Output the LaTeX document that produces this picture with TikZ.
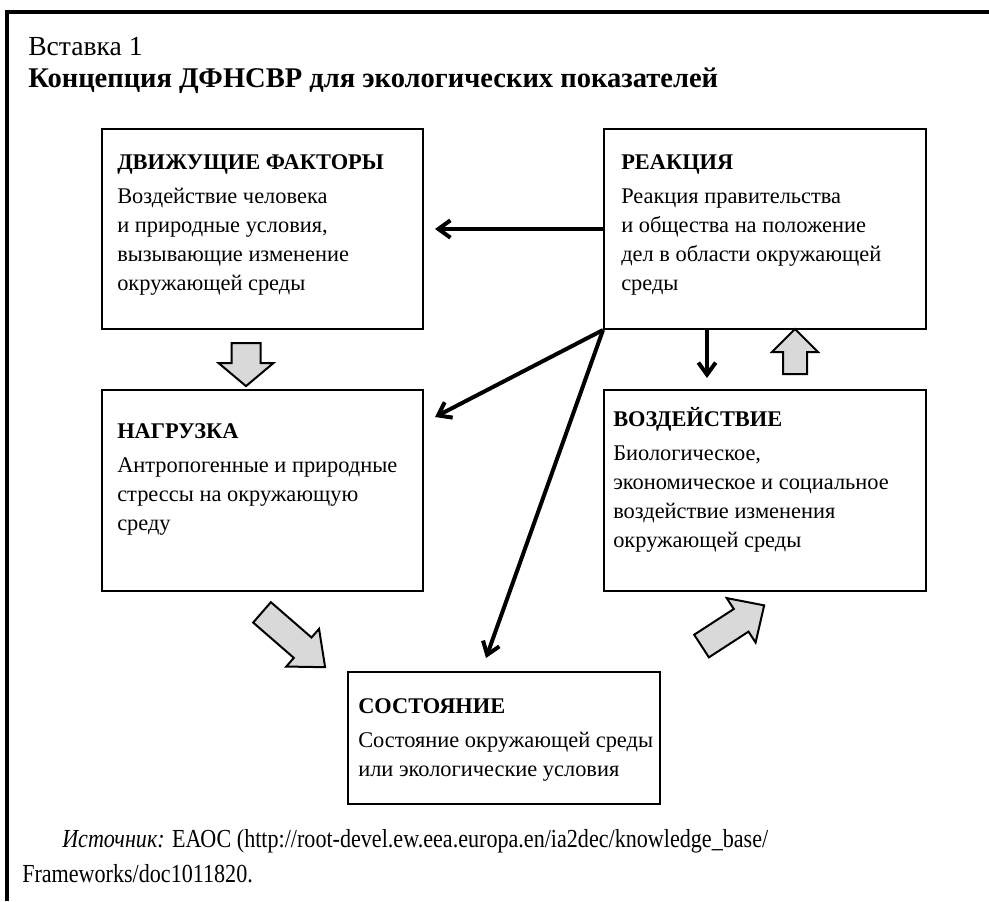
\documentclass[tikz,border=0pt]{standalone}
\usepackage{fontspec}
\setmainfont{Liberation Serif}
\newfontfamily\srcfont{Liberation Serif}[FakeStretch=0.85]
\usetikzlibrary{arrows.meta, shapes.arrows, positioning}

\tikzset{
	box/.style={draw, line width=1.5pt, anchor=north west, inner sep=0pt},
	boxtext/.style={anchor=north west, inner sep=0pt, align=left, font=\fontsize{16.8pt}{21.75pt}\selectfont},
	conn/.style={line width=3pt, -{Straight Barb[length=9pt, width=13pt]}},
	blockarrow/.style={single arrow, draw, line width=1.5pt, fill=black!15, inner xsep=0pt, minimum width=0pt, single arrow tip angle=#1},
}
\newcommand{\hd}[1]{\rule{0pt}{15pt}\textbf{#1}\\[3.75pt]}

\begin{document}
\begin{tikzpicture}[x=0.75pt, y=-0.75pt]
	\useasboundingbox (0,0) rectangle (989,901);
	\draw[line width=3.5pt] (989,12) -- (7,12) -- (7,901);

	\node[anchor=base west, inner sep=0pt, font=\fontsize{20.7pt}{24pt}\selectfont] (insert) at (28,55) {Вставка 1};
	\node[anchor=base west, inner sep=0pt, font=\bfseries\fontsize{21.4pt}{24pt}\selectfont] (title) at (28,87) {Концепция ДФНСВР для экологических показателей};

	% boxes
	\node[box, minimum width=240.75pt, minimum height=150pt] (driver) at (101,128) {};
	\node[box, minimum width=241.5pt, minimum height=150pt] (resp) at (603,128) {};
	\node[box, minimum width=240.75pt, minimum height=150.75pt] (press) at (101,389) {};
	\node[box, minimum width=241.5pt, minimum height=150.75pt] (impact) at (603,389) {};
	\node[box, minimum width=234pt, minimum height=99pt] (state) at (347,671) {};

	\node[boxtext] (driverTxt) at (117,149) {\hd{ДВИЖУЩИЕ ФАКТОРЫ}Воздействие человека\\и природные условия,\\вызывающие изменение\\окружающей среды};
	\node[boxtext] (respTxt) at (621,149) {\hd{РЕАКЦИЯ}Реакция правительства\\и общества на положение\\дел в области окружающей\\среды};
	\node[boxtext] (pressTxt) at (117,418) {\hd{НАГРУЗКА}Антропогенные и природные\\стрессы на окружающую\\среду};
	\node[boxtext] (impactTxt) at (613,406) {\hd{ВОЗДЕЙСТВИЕ}Биологическое,\\экономическое и социальное\\воздействие изменения\\окружающей среды};
	\node[boxtext] (stateTxt) at (358,693) {\hd{СОСТОЯНИЕ}Состояние окружающей среды\\или экологические условия};

	% block arrows
	\node[blockarrow=100, rotate=-90, minimum height=32.25pt, inner ysep=10.125pt, single arrow head extend=9.75pt] (dp) at (246,358.5) {};
	\node[blockarrow=90, rotate=90, minimum height=33.75pt, inner ysep=8.25pt, single arrow head extend=8.25pt] (ir) at (795,357.5) {};
	\node[blockarrow=80, rotate=-41, minimum height=62.7pt, inner ysep=9.375pt, single arrow head extend=8.6pt] (ps) at (287.5,634.5) {};
	\node[blockarrow=88, rotate=33, minimum height=56pt, inner ysep=9.375pt, single arrow head extend=9.75pt] (si) at (727,629.5) {};

	% response arrows
	\coordinate (pTip) at ([shift={(11,28)}]press.north east);
	\coordinate (sTip) at ([shift={(139,-13)}]state.north west);
	\draw[conn] (resp.west) -- ([shift={(11,0)}]driver.east);
	\draw[conn] (resp.south west) -- (pTip);
	\draw[conn] (resp.south west) -- (sTip);
	\draw[conn] ([shift={(-58,0)}]resp.south) -- ([shift={(-58,-11)}]impact.north);

	\node[anchor=base west, inner sep=0pt, font=\srcfont\fontsize{19.5pt}{26pt}\selectfont] (src) at (62,847) {\textit{Источник:} ЕАОС (http://root-devel.ew.eea.europa.en/ia2dec/knowledge\_base/};
	\node[anchor=base west, inner sep=0pt, font=\srcfont\fontsize{19.5pt}{26pt}\selectfont] (srcB) at (22,882) {Frameworks/doc1011820.};
\end{tikzpicture}
\end{document}
